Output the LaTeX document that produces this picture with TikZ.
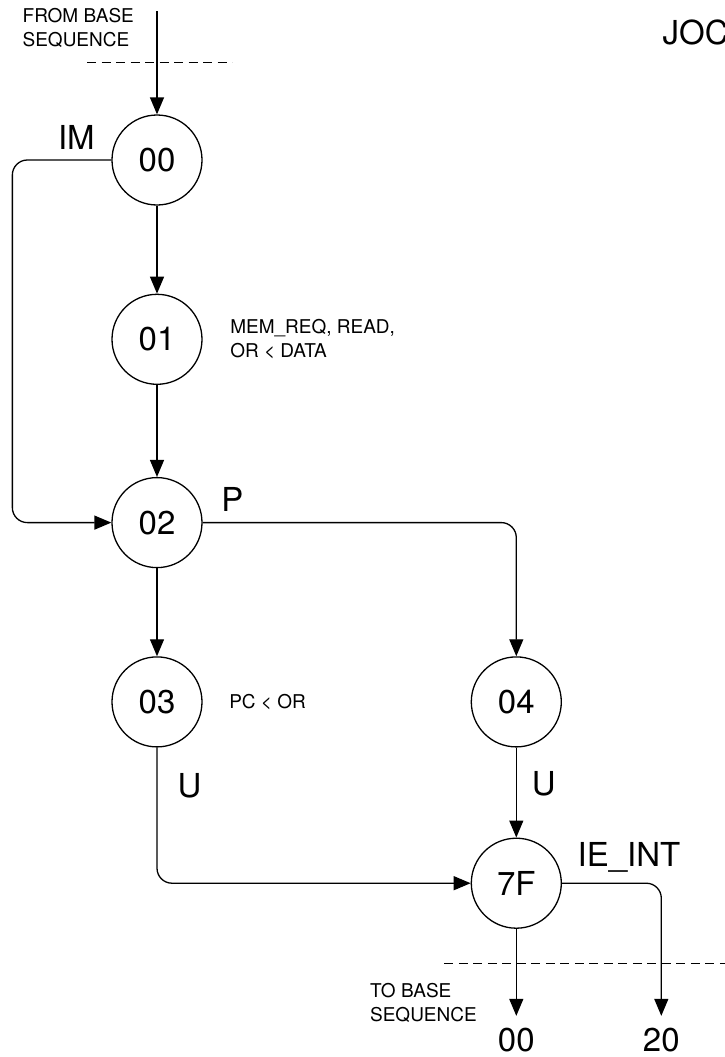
\documentclass[tikz,border=0pt]{standalone}
\usepackage{fontspec}
\setmainfont{TeX Gyre Heros}
\usetikzlibrary{arrows.meta,positioning,calc}

\begin{document}
\begin{tikzpicture}[node distance=90pt, font=\fontsize{33}{38}\selectfont, line width=1.3pt]
\tikzstyle{statenode}=[draw, circle, minimum size=90pt, inner sep=0pt]
\tikzstyle{tag}=[inner sep=0pt]
\tikzstyle{note}=[inner sep=0pt, align=left, font=\fontsize{19}{24}\selectfont]
\tikzstyle{flow}=[-{Triangle[length=17pt,width=14pt]}, rounded corners=15pt]
\tikzstyle{cut}=[dash pattern=on 9pt off 5.5pt]
\useasboundingbox (0,0) rectangle (725pt,-1057pt);
\node[statenode] (s00) at (157pt,-160pt) {00};
\node[statenode, below=88pt of s00] (s01) {01};
\node[statenode, below=92pt of s01] (s02) {02};
\node[statenode, below=88pt of s02] (s03) {03};
\node[statenode, right=268pt of s03] (s04) {04};
\node[statenode, below=90pt of s04] (s7F) {7F};
\coordinate[above=103pt of s00.north] (src);
\coordinate[below=87pt of s7F.south] (out00);
\coordinate[right=145pt of out00] (out20);
% texts
\node[note, anchor=north west] (from) at ($(src)+(-135pt,4pt)$) {FROM BASE\\SEQUENCE};
\node[note, right=27pt of s01] (memreq) {MEM\_REQ, READ,\\OR < DATA};
\node[note, right=26pt of s03] (pcor) {PC < OR};
\node[note, anchor=north east] (tobase) at ($(out00)+(-39pt,33pt)$) {TO BASE\\SEQUENCE};
\node[tag, below=12pt of out00] (n00) {00};
\node[tag, below=12pt of out20] (n20) {20};
\node[tag, anchor=west] (joc) at (662pt,-32pt) {JOC};
% transitions
\draw[flow] (src) -- (s00);
\draw[flow] (s00) -- (s01);
\draw[flow] (s01) -- (s02);
\draw[flow] (s00.west) node[tag, above left=10pt and 16pt]{IM} -- ++(-99pt,0) |- (s02.west);
\draw[flow] (s02) -- (s03);
\draw[flow] (s02.east) node[tag, above right=10pt and 18pt]{P} -| (s04.north);
\draw[flow] (s03.south) node[tag, below right=25pt and 20pt]{U} |- (s7F.west);
\draw[flow] (s04.south) node[tag, below right=23pt and 15pt]{U} -- (s7F.north);
\draw[flow] (s7F) -- (out00);
\draw[flow] (s7F.east) node[tag, above right=10pt and 15pt]{IE\_INT} -| (out20);
% sequence boundaries
\draw[cut] ($(src)+(-70pt,-51pt)$) -- ++(145pt,0);
\draw[cut] ($(s7F)+(-72pt,-80pt)$) -- ++(290pt,0);
\end{tikzpicture}
\end{document}
